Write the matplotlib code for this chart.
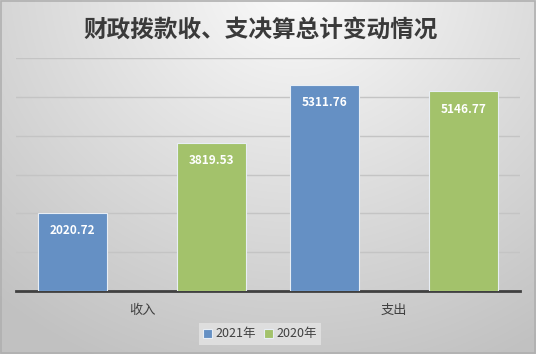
import numpy as np
import matplotlib
matplotlib.use("Agg")
import matplotlib.pyplot as plt
from matplotlib.patches import Rectangle

plt.rcParams['font.family'] = ['Noto Sans CJK SC', 'DejaVu Sans']

title = "财政拨款收、支决算总计变动情况"
categories = ["收入", "支出"]
series_names = ["2021年", "2020年"]
values_2021 = [2020.72, 5311.76]
values_2020 = [3819.53, 5146.77]
colors = ["#6590C4", "#A3C26B"]

W, H = 536, 354
fig = plt.figure(figsize=(W / 100, H / 100), dpi=100)

# background gradient
bg = fig.add_axes([0, 0, 1, 1], zorder=-10)
yy, xx = np.mgrid[0:H, 0:W]
d = np.sqrt(((xx - W * 0.55) / (W * 0.75)) ** 2 + ((yy + 20) / (H * 1.05)) ** 2)
g = np.clip(0.985 - 0.2 * d, 0.76, 0.985)
bg.imshow(np.dstack([g, g, g]), extent=[0, W, H, 0], aspect='auto', interpolation='bilinear')
bg.add_patch(Rectangle((0.5, 0.5), W - 1.5, H - 1.5, fill=False, edgecolor="#b0b0b0", lw=1.2))
bg.set_xlim(0, W); bg.set_ylim(H, 0)
bg.axis('off')

ax = fig.add_axes([16 / W, 1 - 291 / H, (520 - 16) / W, (291 - 58) / H])
ax.patch.set_alpha(0)
x = np.arange(len(categories))
w = 0.274
off = 0.276
for i, (vals, c) in enumerate(zip([values_2021, values_2020], colors)):
    pos = x + (-off if i == 0 else off)
    bars = ax.bar(pos, vals, width=w, color=c, edgecolor="#e8eef5", linewidth=0.8,
                  label=series_names[i], zorder=3)
    for b, v in zip(bars, vals):
        ax.annotate(f"{v:.2f}", (b.get_x() + b.get_width() / 2, v), xytext=(0, -13),
                    textcoords="offset points", ha='center', va='center',
                    color='white', fontsize=8.5, fontweight='bold', zorder=4)

ax.set_xlim(-0.5, 1.5)
ax.set_ylim(0, 6000)
ax.set_yticks(np.arange(0, 6001, 1000))
ax.yaxis.grid(True, color="#c4c4c4", lw=1)
ax.set_axisbelow(True)
ax.tick_params(axis='y', left=False, labelleft=False)
ax.tick_params(axis='x', bottom=False, labelsize=9.5, labelcolor="#404040", pad=6)
ax.set_xticks(x)
ax.set_xticklabels(categories)
for s in ['top', 'right', 'left']:
    ax.spines[s].set_visible(False)
ax.spines['bottom'].set_color("#404040")
ax.spines['bottom'].set_linewidth(2)

leg = fig.legend(loc='center', bbox_to_anchor=(260 / W, 1 - 334 / H), ncol=2,
                 frameon=True, fontsize=9, handlelength=0.7, handleheight=0.7,
                 handletextpad=0.3, columnspacing=0.6, borderpad=0.35, fancybox=False)
leg.get_frame().set_facecolor("#e4e4e4")
leg.get_frame().set_edgecolor("none")
for t in leg.get_texts():
    t.set_color("#404040")

fig.text(0.487, 1 - 30 / H, title, ha='center', va='center', fontsize=17,
         fontweight='bold', color="#3a3a3a")

fig.savefig("out.png", dpi=100)
